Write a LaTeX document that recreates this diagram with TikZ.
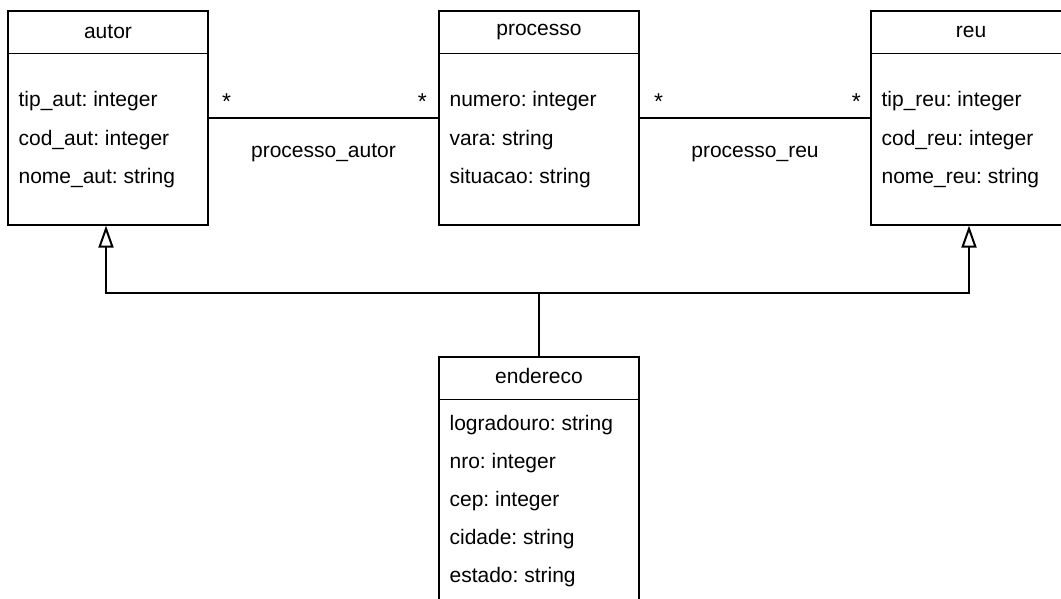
\documentclass[tikz,border=0pt]{standalone}
\usepackage{fontspec}
\setmainfont{Liberation Sans}
\usetikzlibrary{arrows.meta}
\frenchspacing

\begin{document}
\begin{tikzpicture}[x=1pt,y=-1pt,
		classe/.style={draw, line width=1.2pt, minimum width=200pt, inner sep=0pt},
		texto/.style={inner sep=0pt, font=\fontsize{21}{25}\selectfont},
		atrib/.style={texto, anchor=base west},
		mult/.style={texto, anchor=base, font=\fontsize{23}{25}\selectfont},
		rotulo/.style={texto, anchor=base, yshift=-39pt},
		linha/.style={line width=1.2pt},
		heranca/.style={linha, -{Triangle[open, length=22pt, width=15pt, line width=2pt]}}]
		\clip (0,0) rectangle (1061,598);
		% classes
		\node[classe, minimum height=214pt] (autor) at (108,118) {};
		\node[classe, minimum height=214pt] (processo) at (539,118) {};
		\node[classe, minimum height=214pt] (reu) at (971,118) {};
		\node[classe, minimum height=260pt] (endereco) at (539,487) {};
		% cabecalhos
		\foreach \c in {autor,processo,reu,endereco}
		\draw[linha] ([shift={(0,43)}]\c.north west) -- ([shift={(0,43)}]\c.north east);
		\node[texto] (t-autor) at ([shift={(0,21.5)}]autor.north) {autor};
		\node[texto] (t-processo) at ([shift={(0,21.5)}]processo.north) {processo};
		\node[texto] (t-reu) at ([shift={(0,21.5)}]reu.north) {reu};
		\node[texto] (t-endereco) at ([shift={(0,20)}]endereco.north) {endereco};
		% atributos
		\foreach \a [count=\i] in {tip\_aut: integer, cod\_aut: integer, nome\_aut: string}
		\node[atrib] (a-autor-\i) at ([shift={(11,58+38.5*\i)}]autor.north west) {\a};
		\foreach \a [count=\i] in {numero: integer, vara: string, situacao: string}
		\node[atrib] (a-processo-\i) at ([shift={(11,58+38.5*\i)}]processo.north west) {\a};
		\foreach \a [count=\i] in {tip\_reu: integer, cod\_reu: integer, nome\_reu: string}
		\node[atrib] (a-reu-\i) at ([shift={(11,58+38.5*\i)}]reu.north west) {\a};
		\foreach \a [count=\i] in {logradouro: string, nro: integer, cep: integer, cidade: string, estado: string}
		\node[atrib] (a-endereco-\i) at ([shift={(11,35.5+38.2*\i)}]endereco.north west) {\a};
		% associacoes
		\draw[linha] (autor) -- node[rotulo] (r-autor) {processo\_autor} (processo);
		\draw[linha] (processo) -- node[rotulo] (r-reu) {processo\_reu} (reu);
		\node[mult] (m1) at ([shift={(18,-9)}]autor.east) {*};
		\node[mult] (m2) at ([shift={(-16,-9)}]processo.west) {*};
		\node[mult] (m3) at ([shift={(19,-9)}]processo.east) {*};
		\node[mult] (m4) at ([shift={(-14,-9)}]reu.west) {*};
		% generalizacao
		\coordinate (juncao) at (539,293);
		\draw[linha] (endereco.north) -- (juncao);
		\draw[heranca] (juncao) -| ([xshift=-2pt]autor.south);
		\draw[heranca] (juncao) -| ([xshift=-2pt]reu.south);
\end{tikzpicture}
\end{document}
